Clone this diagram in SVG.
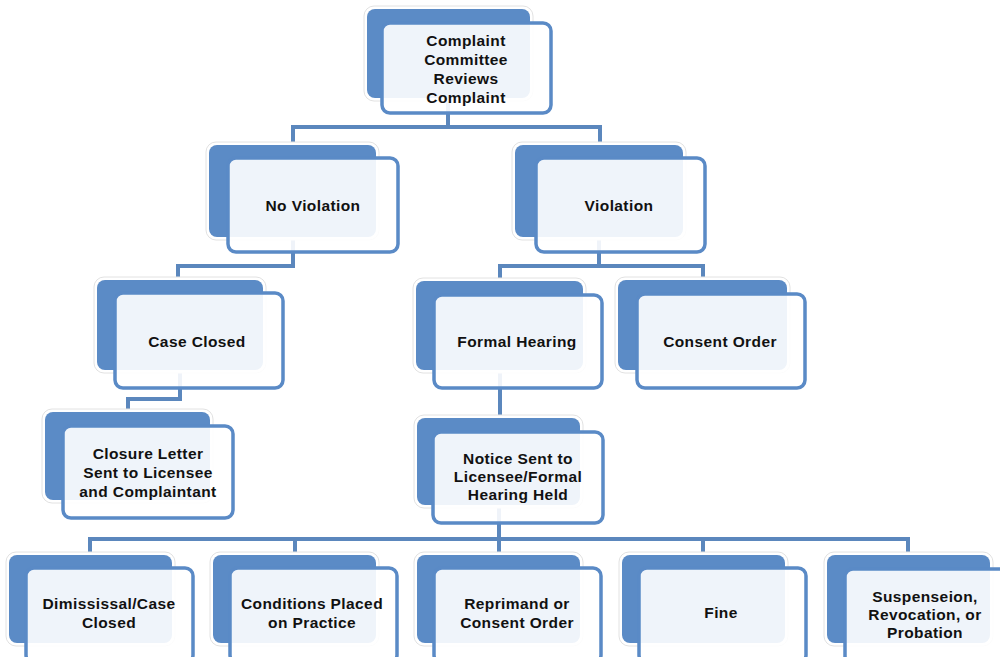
<svg xmlns="http://www.w3.org/2000/svg" width="1000" height="657" viewBox="0 0 1000 657">
<style>
.conn{fill:none;stroke:#5b87bd;stroke-width:4;stroke-linejoin:miter}
.halo{fill:#ffffff;stroke:#e2e2e2;stroke-width:1}
.back{fill:#5b8bc6}
.front{fill:#ffffff;fill-opacity:0.9;stroke:#5a8ac6;stroke-width:3.5}
text{font-family:"Liberation Sans",Arial,sans-serif;font-weight:bold;font-size:15.5px;fill:#111111;text-anchor:middle;letter-spacing:0.4px}
</style>
<rect width="1000" height="657" fill="#ffffff"/>
<g id="connectors">
<path class="conn" d="M448,98 V127 M291,127 H602 M293,127 V145 M600,127 V145"/>
<path class="conn" d="M293,237 V266 H178 V280"/>
<path class="conn" d="M599,237 V266 M498,266 H705 M500,266 V281 M703,266 V280"/>
<path class="conn" d="M180,370 V399 H128 V412"/>
<path class="conn" d="M500,370 V418"/>
<path class="conn" d="M499,505 V539 M88,539 H910 M90,539 V555 M295,539 V555 M703,539 V555 M908,539 V555 M499,539 V555"/>
</g>
<g id="n-top">
<rect class="halo" x="364" y="6" width="169" height="95" rx="10"/>
<rect class="back" x="367" y="9" width="163" height="89" rx="8"/>
<rect class="front" x="382" y="23" width="169" height="90" rx="8"/>
<text x="466" y="45.5">Complaint</text>
<text x="466" y="64.5">Committee</text>
<text x="466" y="83.5">Reviews</text>
<text x="466" y="102.5">Complaint</text>
</g>
<g id="n-noviol">
<rect class="halo" x="206" y="142" width="173" height="98" rx="10"/>
<rect class="back" x="209" y="145" width="167" height="92" rx="8"/>
<rect class="front" x="228" y="158" width="170" height="94" rx="8"/>
<text x="313" y="210.5">No Violation</text>
</g>
<g id="n-viol">
<rect class="halo" x="512" y="142" width="174" height="98" rx="10"/>
<rect class="back" x="515" y="145" width="168" height="92" rx="8"/>
<rect class="front" x="536" y="158" width="169" height="94" rx="8"/>
<text x="619" y="210.5">Violation</text>
</g>
<g id="n-caseclosed">
<rect class="halo" x="94" y="277" width="172" height="96" rx="10"/>
<rect class="back" x="97" y="280" width="166" height="90" rx="8"/>
<rect class="front" x="115" y="293" width="168" height="95" rx="8"/>
<text x="197" y="346.5">Case Closed</text>
</g>
<g id="n-formal">
<rect class="halo" x="413" y="278" width="173" height="95" rx="10"/>
<rect class="back" x="416" y="281" width="167" height="89" rx="8"/>
<rect class="front" x="434" y="295" width="168" height="93" rx="8"/>
<text x="517" y="346.5">Formal Hearing</text>
</g>
<g id="n-consent">
<rect class="halo" x="615" y="277" width="175" height="96" rx="10"/>
<rect class="back" x="618" y="280" width="169" height="90" rx="8"/>
<rect class="front" x="637" y="294" width="168" height="94" rx="8"/>
<text x="720" y="346.5">Consent Order</text>
</g>
<g id="n-closure">
<rect class="halo" x="42" y="409" width="171" height="94" rx="10"/>
<rect class="back" x="45" y="412" width="165" height="88" rx="8"/>
<rect class="front" x="63" y="426" width="170" height="92" rx="8"/>
<text x="148" y="458.5">Closure Letter</text>
<text x="148" y="477.5">Sent to Licensee</text>
<text x="148" y="496.5">and Complaintant</text>
</g>
<g id="n-notice">
<rect class="halo" x="414" y="415" width="169" height="93" rx="10"/>
<rect class="back" x="417" y="418" width="163" height="87" rx="8"/>
<rect class="front" x="433" y="432" width="170" height="91" rx="8"/>
<text x="518" y="463.5">Notice Sent to</text>
<text x="518" y="481.5">Licensee/Formal</text>
<text x="518" y="499.5">Hearing Held</text>
</g>
<g id="n-dismissal">
<rect class="halo" x="6" y="552" width="169" height="94" rx="10"/>
<rect class="back" x="9" y="555" width="163" height="88" rx="8"/>
<rect class="front" x="26" y="568" width="167" height="95" rx="8"/>
<text x="109" y="608.5">Dimississal/Case</text>
<text x="109" y="627.5">Closed</text>
</g>
<g id="n-conditions">
<rect class="halo" x="210" y="552" width="169" height="94" rx="10"/>
<rect class="back" x="213" y="555" width="163" height="88" rx="8"/>
<rect class="front" x="230" y="568" width="167" height="95" rx="8"/>
<text x="312" y="608.5">Conditions Placed</text>
<text x="312" y="627.5">on Practice</text>
</g>
<g id="n-reprimand">
<rect class="halo" x="414" y="552" width="169" height="94" rx="10"/>
<rect class="back" x="417" y="555" width="163" height="88" rx="8"/>
<rect class="front" x="434" y="568" width="167" height="95" rx="8"/>
<text x="517" y="608.5">Reprimand or</text>
<text x="517" y="627.5">Consent Order</text>
</g>
<g id="n-fine">
<rect class="halo" x="619" y="552" width="169" height="94" rx="10"/>
<rect class="back" x="622" y="555" width="163" height="88" rx="8"/>
<rect class="front" x="639" y="568" width="167" height="95" rx="8"/>
<text x="721" y="617.5">Fine</text>
</g>
<g id="n-suspension">
<rect class="halo" x="824" y="552" width="169" height="94" rx="10"/>
<rect class="back" x="827" y="555" width="163" height="88" rx="8"/>
<rect class="front" x="845" y="569" width="167" height="95" rx="8"/>
<text x="925" y="601.5">Suspenseion,</text>
<text x="925" y="619.5">Revocation, or</text>
<text x="925" y="637.5">Probation</text>
</g>
</svg>
